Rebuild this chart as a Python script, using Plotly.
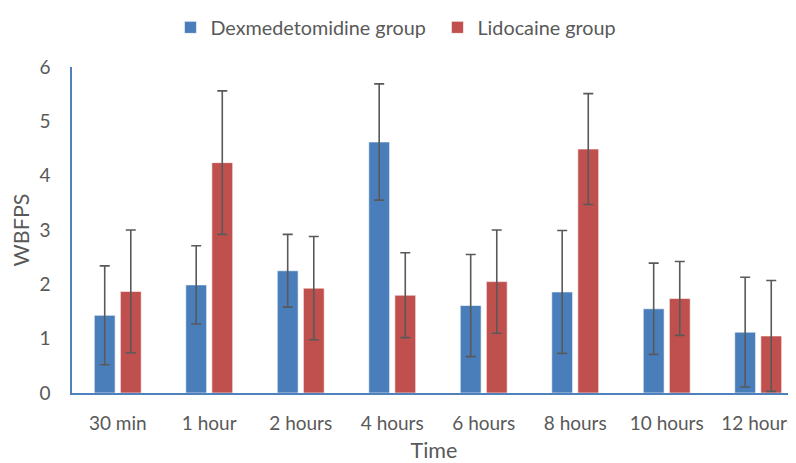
import plotly.graph_objects as go

categories = ["30 min", "1 hour", "2 hours", "4 hours", "6 hours", "8 hours", "10 hours", "12 hours"]
dex_values = [1.43, 1.99, 2.25, 4.62, 1.61, 1.86, 1.55, 1.12]
dex_errors = [0.91, 0.72, 0.67, 1.07, 0.94, 1.13, 0.84, 1.01]
lido_values = [1.87, 4.24, 1.93, 1.80, 2.05, 4.49, 1.74, 1.05]
lido_errors = [1.13, 1.32, 0.95, 0.78, 0.95, 1.02, 0.68, 1.02]

FONT = "Lato"
GRAY = "#595959"
AXIS_BLUE = "#4F81BD"

fig = go.Figure()
fig.add_trace(go.Bar(
    x=categories, y=dex_values, name="Dexmedetomidine group",
    marker=dict(color="#4A7EBB", line=dict(color="rgba(255,255,255,0.6)", width=1)),
    error_y=dict(type="data", array=dex_errors, visible=True, color=GRAY, thickness=1.6, width=5),
))
fig.add_trace(go.Bar(
    x=categories, y=lido_values, name="Lidocaine group",
    marker=dict(color="#C0504D", line=dict(color="rgba(255,255,255,0.6)", width=1)),
    error_y=dict(type="data", array=lido_errors, visible=True, color=GRAY, thickness=1.6, width=5),
))

fig.update_layout(
    width=788, height=455,
    margin=dict(l=64, r=0, t=59, b=70),
    paper_bgcolor="white", plot_bgcolor="white",
    barmode="group", bargap=0.43, bargroupgap=0.2,
    font=dict(family=FONT, size=18, color=GRAY),
    legend=dict(orientation="h", x=0.136, xanchor="left", xref="paper",
                y=1.0, yref="container", yanchor="top",
                entrywidth=222, entrywidthmode="pixels",
                font=dict(size=19.8, color=GRAY), itemwidth=30),
    xaxis=dict(
        range=[-0.5, 7.413], showline=True, linecolor=AXIS_BLUE, linewidth=1.5,
        showgrid=False, ticks="outside", ticklen=12, tickcolor="rgba(0,0,0,0)",
        tickfont=dict(size=19, color=GRAY), automargin=False,
        title=dict(text="Time", font=dict(size=21.5, color=GRAY), standoff=10),
    ),
    yaxis=dict(
        range=[0, 6], dtick=1, showline=True, linecolor=AXIS_BLUE, linewidth=1.5,
        showgrid=False, zeroline=False, ticks="outside", ticklen=16, tickcolor="rgba(0,0,0,0)",
        tickfont=dict(size=19, color=GRAY), automargin=False,
        title=dict(text="WBFPS", font=dict(size=21.5, color=GRAY), standoff=9),
    ),
)

fig.write_html("out.html")
